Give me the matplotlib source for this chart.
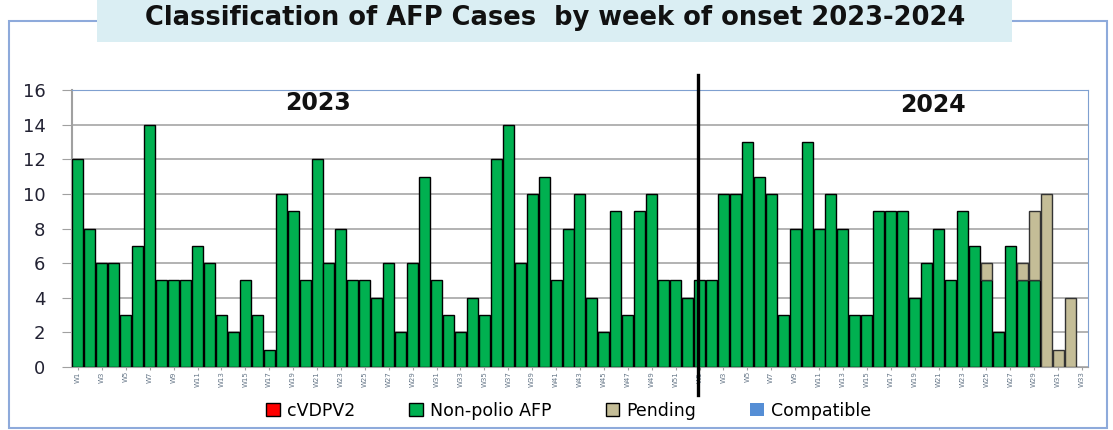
import matplotlib
matplotlib.use("Agg")
from matplotlib import pyplot as plt
from matplotlib.patches import Rectangle, Patch
import numpy as np

# week labels
weeks_2023 = ["W%d" % i for i in range(1, 53)]
weeks_2024 = ["W%d" % i for i in range(1, 34)]

# cases per week
nonpolio_2023 = [12, 8, 6, 6, 3, 7, 14, 5, 5, 5, 7, 6, 3, 2, 5, 3, 1, 10, 9, 5,
                 12, 6, 8, 5, 5, 4, 6, 2, 6, 11, 5, 3, 2, 4, 3, 12, 14, 6, 10, 11,
                 5, 8, 10, 4, 2, 9, 3, 9, 10, 5, 5, 4]
nonpolio_2024 = [5, 5, 10, 10, 13, 11, 10, 3, 8, 13, 8, 10, 8, 3, 3, 9, 9, 9, 4, 6,
                 8, 5, 9, 7, 5, 2, 7, 5, 5, 0, 0, 0, 0]
pending_2023 = [0] * 52
pending_2024 = [0] * 24 + [1, 0, 0, 1, 4, 10, 1, 4, 0]
cvdpv2 = [0] * 85
compatible = [0] * 85

legend_labels = ["cVDPV2", "Non-polio AFP", "Pending", "Compatible"]
colors = ["#ff0000", "#00b050", "#c4bd97", "#558ed5"]

labels = weeks_2023 + weeks_2024
nonpolio = np.array(nonpolio_2023 + nonpolio_2024)
pending = np.array(pending_2023 + pending_2024)
x = np.arange(len(labels))

fig = plt.figure(figsize=(11.13, 4.3), dpi=100)

# outer frame + title box
fig.patches.append(Rectangle((0.0081, 0.0047), 0.9865, 0.9465, transform=fig.transFigure,
                             fill=False, edgecolor="#8eaadb", lw=1.5, zorder=0))
fig.patches.append(Rectangle((0.087, 0.902), 0.822, 0.098, transform=fig.transFigure,
                             facecolor="#daeef3", edgecolor="none", zorder=1))
fig.text(0.499, 0.958, "Classification of AFP Cases  by week of onset 2023-2024",
         ha="center", va="center", fontsize=18.5, fontweight="bold", color="#111111", zorder=2)

ax = fig.add_axes([0.0647, 0.1465, 0.9128, 0.6442])

m = nonpolio > 0
ax.bar(x[m], nonpolio[m], width=0.92, color=colors[1], edgecolor="black", lw=1.0, zorder=3)
p = pending > 0
ax.bar(x[p], pending[p], bottom=nonpolio[p], width=0.92, color=colors[2],
       edgecolor="#333333", lw=1.0, zorder=3)

ax.set_xlim(-0.5, len(labels) - 0.5)
ax.set_ylim(0, 16)
ax.set_yticks(np.arange(0, 17, 2))
ax.yaxis.grid(True, color="#a6a6a6", lw=1.2, zorder=0)
ax.set_axisbelow(True)
ax.tick_params(axis="y", length=7, color="#a0a0a0", labelsize=13, labelcolor="#222233", pad=12)

ax.set_xticks(x[::2])
ax.set_xticklabels(labels[::2], rotation=90, fontsize=5, color="#667788")
ax.tick_params(axis="x", length=2, color="#a0a0a0", pad=1)

ax.spines["left"].set_color("#a0a0a0")
ax.spines["left"].set_linewidth(1.5)
ax.spines["bottom"].set_color("#a0a0a0")
ax.spines["top"].set_color("#7fa0d0")
ax.spines["right"].set_color("#7fa0d0")

# year split
ax.axvline(51.85, ymin=-0.10, ymax=1.054, color="black", lw=2.4, clip_on=False, zorder=5)
ax.text(0.242, 0.953, "2023", transform=ax.transAxes, ha="center", va="center",
        fontsize=17, fontweight="bold", color="#111111")
ax.text(0.847, 0.946, "2024", transform=ax.transAxes, ha="center", va="center",
        fontsize=17, fontweight="bold", color="#111111")

handles = [Patch(facecolor=colors[0], edgecolor="black", lw=1.0),
           Patch(facecolor=colors[1], edgecolor="black", lw=1.0),
           Patch(facecolor=colors[2], edgecolor="black", lw=1.0),
           Patch(facecolor=colors[3], edgecolor="none")]
fig.legend(handles, legend_labels, loc="center", bbox_to_anchor=(0.511, 0.045), ncol=4,
           frameon=False, fontsize=12.5, handlelength=0.8, handleheight=0.8,
           handletextpad=0.4, columnspacing=3.1)

fig.savefig("out.png", dpi=100)
